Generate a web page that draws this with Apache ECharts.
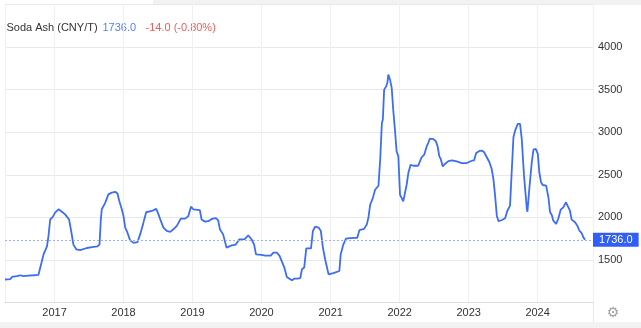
<!DOCTYPE html>
<html><head><meta charset="utf-8">
<script src="https://cdn.jsdelivr.net/npm/echarts@6/dist/echarts.min.js"></script>
<style>html,body{margin:0;padding:0;background:#fff}#c{width:641px;height:328px}</style>
</head><body><div id="c"></div>
<script>
const titleText = 'Soda Ash (CNY/T)';
const lastValue = 1736.0;
const change = -14.0;
const changePct = -0.80;
const yTickLabels = [1500, 2000, 2500, 3000, 3500, 4000];
const dates = [
'2016-04-14','2016-05-12','2016-05-21','2016-06-16','2016-07-04','2016-07-21','2016-08-16','2016-09-12','2016-10-08','2016-10-17',
'2016-10-26','2016-11-04','2016-11-22','2016-11-30','2016-12-09','2016-12-23','2017-01-04','2017-01-22','2017-02-09','2017-02-26',
'2017-03-19','2017-03-30','2017-04-11','2017-04-26','2017-05-17','2017-06-21','2017-07-18','2017-08-16','2017-08-27','2017-09-03',
'2017-09-08','2017-09-26','2017-10-13','2017-10-31','2017-11-18','2017-11-30','2017-12-10','2017-12-23','2018-01-01','2018-01-10',
'2018-01-22','2018-02-05','2018-02-23','2018-03-16','2018-03-30','2018-04-16','2018-05-01','2018-05-31','2018-06-23','2018-07-05',
'2018-07-18','2018-07-31','2018-08-18','2018-09-05','2018-09-22','2018-10-10','2018-10-31','2018-11-23','2018-12-10','2018-12-18',
'2018-12-24','2019-01-05','2019-02-09','2019-02-18','2019-03-08','2019-03-25','2019-04-03','2019-04-17','2019-05-05','2019-05-17',
'2019-05-26','2019-06-12','2019-06-30','2019-07-27','2019-08-18','2019-09-05','2019-10-05','2019-10-23','2019-11-10','2019-11-23',
'2019-12-03','2020-01-02','2020-01-20','2020-02-19','2020-03-04','2020-03-22','2020-04-05','2020-04-17','2020-05-01','2020-05-14',
'2020-05-28','2020-06-10','2020-06-22','2020-07-10','2020-07-24','2020-08-02','2020-08-14','2020-08-25','2020-09-19','2020-09-29',
'2020-10-11','2020-10-29','2020-11-10','2020-11-21','2020-12-03','2020-12-21','2021-01-15','2021-02-16','2021-02-23','2021-03-09',
'2021-03-23','2021-04-13','2021-05-10','2021-05-22','2021-06-02','2021-06-27','2021-07-11','2021-07-20','2021-07-29','2021-08-12',
'2021-08-24','2021-09-11','2021-09-20','2021-09-29','2021-10-04','2021-10-11','2021-10-22','2021-10-28','2021-11-02','2021-11-11',
'2021-11-20','2021-11-28','2021-12-07','2021-12-16','2021-12-25','2022-01-03','2022-01-12','2022-01-20','2022-01-29','2022-02-07',
'2022-02-16','2022-02-28','2022-03-14','2022-03-23','2022-04-09','2022-04-18','2022-04-27','2022-05-11','2022-05-24','2022-06-01',
'2022-06-10','2022-06-28','2022-07-12','2022-07-21','2022-07-30','2022-08-06','2022-08-17','2022-08-30','2022-09-16','2022-10-04',
'2022-10-30','2022-11-26','2022-12-22','2023-01-18','2023-01-30','2023-02-10','2023-02-27','2023-03-12','2023-03-24','2023-04-07',
'2023-04-21','2023-05-03','2023-05-12','2023-05-21','2023-05-30','2023-06-08','2023-06-26','2023-07-13','2023-07-25','2023-08-08',
'2023-08-17','2023-08-26','2023-09-04','2023-09-18','2023-09-30','2023-10-09','2023-10-21','2023-11-05','2023-11-08','2023-11-18',
'2023-12-01','2023-12-10','2023-12-22','2024-01-02','2024-01-10','2024-01-19','2024-01-28','2024-02-15','2024-02-27','2024-03-07',
'2024-03-16','2024-03-24','2024-04-08','2024-04-14','2024-04-20','2024-05-02','2024-05-16','2024-05-30','2024-06-08','2024-06-20',
'2024-06-29','2024-07-17','2024-07-29','2024-08-09','2024-08-21','2024-08-30','2024-09-08'
];
const values = [
1270,1275,1300,1310,1320,1310,1315,1320,1325,1340,
1485,1565,1660,1780,1975,2005,2055,2095,2065,2035,
1975,1840,1680,1625,1615,1640,1650,1660,1680,1975,
2095,2170,2270,2290,2300,2280,2190,2095,2015,1880,
1820,1730,1700,1710,1800,1935,2060,2075,2100,2035,
1955,1880,1840,1830,1860,1900,1985,1985,2015,2035,
2125,2095,2085,1975,1950,1955,1945,1985,1990,1965,
1860,1800,1645,1670,1680,1740,1745,1790,1740,1680,
1565,1560,1550,1550,1585,1585,1550,1485,1410,1300,
1280,1260,1280,1280,1285,1390,1410,1635,1635,1840,
1890,1880,1840,1645,1505,1330,1345,1370,1565,1680,
1750,1755,1760,1760,1850,1865,1915,2000,2148,2226,
2324,2371,2677,3108,3147,3500,3540,3580,3676,3618,
3520,3265,3030,2775,2716,2265,2226,2187,2187,2383,
2520,2618,2606,2586,2606,2610,2704,2736,2833,2873,
2924,2920,2892,2833,2716,2689,2598,2630,2661,2669,
2657,2638,2638,2665,2670,2755,2780,2784,2765,2706,
2647,2568,2451,2255,2020,1954,1969,1989,2078,2137,
2157,2941,3019,3098,3098,2921,2490,2098,2066,2333,
2647,2796,2804,2745,2530,2412,2380,2372,2236,2059,
2028,1961,1922,1910,1989,2090,2118,2177,2157,2078,
1973,1942,1902,1843,1816,1765,1736
];
const xMin = '2016-04-14';
const xMax = '2024-10-20';

const chart = echarts.init(document.getElementById('c'), null, {renderer: 'canvas'});
const font = 'Arial, "Liberation Sans", sans-serif';
const sign = v => (v > 0 ? '+' : '') + v.toFixed(1);
chart.setOption({
  animation: false,
  backgroundColor: '#ffffff',
  grid: {left: 5, right: 48, top: 4.5, bottom: 25.5},
  xAxis: {
    type: 'time', min: xMin, max: xMax,
    minInterval: 365 * 86400000, maxInterval: 366 * 86400000,
    axisLine: {show: true, lineStyle: {color: '#dcdcdc', width: 1}},
    axisTick: {show: false},
    splitLine: {show: true, lineStyle: {color: '#f0f0f0', width: 1}},
    axisLabel: {
      margin: 5, fontSize: 11, color: '#333', fontFamily: font,
      formatter: function (val) {
        const d = new Date(val);
        return (d.getMonth() === 0 && d.getDate() === 1) ? String(d.getFullYear()) : '';
      },
      rich: {}
    }
  },
  yAxis: {
    type: 'value', position: 'right', min: 1000, max: 4500, interval: 500,
    axisLine: {show: false}, axisTick: {show: false},
    splitLine: {show: true, lineStyle: {color: '#e9e9e9', width: 1}},
    axisLabel: {
      margin: 5, fontSize: 11, color: '#333', fontFamily: font, align: 'left',
      formatter: v => yTickLabels.includes(v) ? String(v) : ''
    }
  },
  series: [{
    type: 'line',
    data: dates.map((d, i) => [d, values[i]]),
    showSymbol: false,
    lineStyle: {color: '#3d6df5', width: 1.8},
    itemStyle: {color: '#3d6df5'},
    markLine: {
      silent: true, symbol: 'none', animation: false,
      lineStyle: {type: [2, 2], color: '#9bb1ff', width: 1},
      label: {
        show: true, position: 'end', distance: 0,
        formatter: lastValue.toFixed(1),
        backgroundColor: '#2f5ff6', color: '#fff', fontSize: 11, fontFamily: font,
        padding: [2, 6, 1, 6]
      },
      data: [{yAxis: lastValue}]
    }
  }],
  graphic: [
    {type: 'rect', shape: {x: 153, y: 0, width: 488, height: 5}, style: {fill: '#f2f2f2'}, silent: true},
    {type: 'rect', shape: {x: 0, y: 322, width: 641, height: 6}, style: {fill: '#f2f2f2'}, silent: true},
    {type: 'line', shape: {x1: 593.5, y1: 5, x2: 593.5, y2: 322}, style: {stroke: '#e6e6e6', lineWidth: 1}, silent: true},
    {type: 'text', x: 6.5, y: 28, style: {text: titleText, fontSize: 11, fontFamily: font, fill: '#333', verticalAlign: 'middle'}},
    {type: 'text', x: 102.5, y: 28, style: {text: lastValue.toFixed(1), fontSize: 11, fontFamily: font, fill: '#5b7cff', verticalAlign: 'middle'}},
    {type: 'text', x: 145.5, y: 28, style: {text: sign(change) + ' (' + changePct.toFixed(2) + '%)', fontSize: 11, fontFamily: font, fill: '#f05b5b', verticalAlign: 'middle'}},
    {type: 'text', x: 613, y: 313, style: {text: '\u2699', fontSize: 14, fontFamily: 'DejaVu Sans', fill: '#a0a0a0', align: 'center', verticalAlign: 'middle'}}
  ]
});
</script>
</body></html>
